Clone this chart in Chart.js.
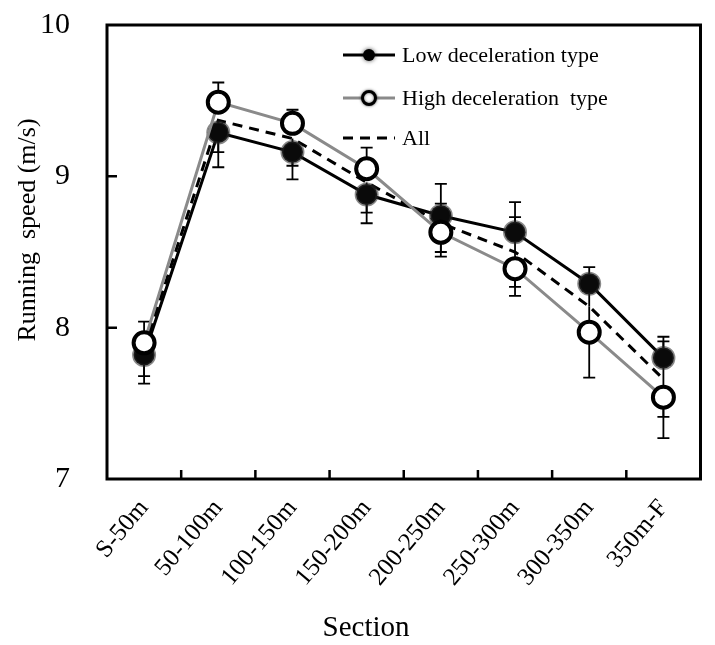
<!DOCTYPE html>
<html>
<head>
<meta charset="utf-8">
<script src="https://cdn.jsdelivr.net/npm/chart.js@4/dist/chart.umd.min.js"></script>
<style>
  html, body { margin: 0; padding: 0; background: #fff; }
  #wrap { width: 715px; height: 645px; }
</style>
</head>
<body>
<div id="wrap"><canvas id="c" width="715" height="645"></canvas></div>
<script>
// ---- Data ----
const categories = ['S-50m', '50-100m', '100-150m', '150-200m', '200-250m', '250-300m', '300-350m', '350m-F'];
const lowValues  = [7.82, 9.29, 9.16, 8.88, 8.74, 8.63, 8.29, 7.80];
const highValues = [7.90, 9.49, 9.35, 9.05, 8.63, 8.39, 7.97, 7.54];
const allValues  = [7.86, 9.37, 9.25, 8.96, 8.69, 8.50, 8.14, 7.66];

// error bars (m/s), upward and downward parts that are visible
const lowErrPlus   = [0, 0, 0, 0, 0.21, 0.20, 0.11, 0.14];
const lowErrMinus  = [0.19, 0.23, 0.18, 0.19, 0, 0, 0, 0];
const highErrPlus  = [0.14, 0.13, 0.09, 0.14, 0, 0, 0, 0];
const highErrMinus = [0, 0, 0, 0, 0.16, 0.18, 0.30, 0.27];
const allErrPlus   = [0, 0, 0, 0, 0.13, 0.23, 0.15, 0.25];
const allErrMinus  = [0.18, 0.21, 0.18, 0.20, 0.19, 0.23, 0.15, 0.25];

const yTicks = [7, 8, 9, 10];
const seriesLabels = ['Low deceleration type', 'High deceleration  type', 'All'];
const xTitle = 'Section';
const yTitle = 'Running  speed (m/s)';

const SERIF = '"Liberation Serif", "Times New Roman", serif';
const GRAY = '#8a8a8a';

const errorBars = {
  id: 'errorBars',
  beforeDatasetsDraw(chart) {
    const ctx = chart.ctx;
    const xs = chart.scales.x, ys = chart.scales.y;
    const sets = [
      [lowValues, lowErrPlus, lowErrMinus],
      [highValues, highErrPlus, highErrMinus],
      [allValues, allErrPlus, allErrMinus]
    ];
    ctx.save();
    ctx.strokeStyle = '#000';
    ctx.lineWidth = 1.8;
    sets.forEach(([vals, plus, minus]) => {
      vals.forEach((v, i) => {
        const x = xs.getPixelForValue(i);
        const y0 = ys.getPixelForValue(v);
        [[plus[i], 1], [minus[i], -1]].forEach(([d, s]) => {
          if (!d) return;
          const y1 = ys.getPixelForValue(v + s * d);
          ctx.beginPath();
          ctx.moveTo(x, y0); ctx.lineTo(x, y1);
          ctx.moveTo(x - 6, y1); ctx.lineTo(x + 6, y1);
          ctx.stroke();
        });
      });
    });
    ctx.restore();
  }
};

const frameAndLegend = {
  id: 'frameAndLegend',
  afterDraw(chart) {
    const ctx = chart.ctx;
    const a = chart.chartArea;
    const xs = chart.scales.x, ys = chart.scales.y;
    ctx.save();
    // frame
    ctx.strokeStyle = '#000';
    ctx.lineWidth = 3;
    ctx.strokeRect(a.left, a.top, a.right - a.left, a.bottom - a.top);
    // inward tick marks
    ctx.lineWidth = 2.5;
    ctx.beginPath();
    for (let i = 1; i < categories.length; i++) {
      const xb = (xs.getPixelForValue(i - 1) + xs.getPixelForValue(i)) / 2;
      ctx.moveTo(xb, a.bottom); ctx.lineTo(xb, a.bottom - 9);
    }
    yTicks.slice(1, -1).forEach(t => {
      const yp = ys.getPixelForValue(t);
      ctx.moveTo(a.left, yp); ctx.lineTo(a.left + 10, yp);
    });
    ctx.stroke();

    // axis titles
    ctx.fillStyle = '#000';
    ctx.font = '29px ' + SERIF;
    ctx.textAlign = 'center';
    ctx.textBaseline = 'alphabetic';
    ctx.fillText(xTitle, a.left + 259, 636);
    ctx.save();
    ctx.translate(35, a.top + 205);
    ctx.rotate(-Math.PI / 2);
    ctx.font = '26px ' + SERIF;
    ctx.fillText(yTitle, 0, 0);
    ctx.restore();

    // legend
    const lx0 = a.left + 236, lx1 = a.left + 288, tx = a.left + 295;
    const rows = [a.top + 30, a.top + 73, a.top + 113];
    [0, 1, 2].forEach((di, r) => {
      const ds = chart.data.datasets[di];
      const y = rows[r];
      ctx.save();
      ctx.strokeStyle = ds.borderColor;
      ctx.lineWidth = 3;
      ctx.setLineDash(ds.borderDash || []);
      ctx.beginPath(); ctx.moveTo(lx0, y); ctx.lineTo(lx1, y); ctx.stroke();
      ctx.setLineDash([]);
      const cx = (lx0 + lx1) / 2;
      if (di === 0) {
        ctx.fillStyle = '#000';
        ctx.shadowColor = 'rgba(0,0,0,0.7)'; ctx.shadowBlur = 4;
        ctx.beginPath(); ctx.arc(cx, y, 6, 0, Math.PI * 2); ctx.fill();
      } else if (di === 1) {
        ctx.fillStyle = '#fff';
        ctx.strokeStyle = '#000';
        ctx.lineWidth = 3;
        ctx.shadowColor = 'rgba(0,0,0,0.6)'; ctx.shadowBlur = 3;
        ctx.beginPath(); ctx.arc(cx, y, 6.5, 0, Math.PI * 2); ctx.fill(); ctx.stroke();
      }
      ctx.restore();
      ctx.fillStyle = '#000';
      ctx.font = '22px ' + SERIF;
      ctx.textAlign = 'left';
      ctx.textBaseline = 'middle';
      ctx.fillText(ds.label, tx, y + 1);
    });
    ctx.restore();
  }
};

new Chart(document.getElementById('c'), {
  type: 'line',
  data: {
    labels: categories,
    datasets: [
      {
        label: seriesLabels[0],
        data: lowValues,
        borderColor: '#000',
        borderWidth: 3,
        backgroundColor: '#000',
        pointBackgroundColor: '#0a0a0a',
        pointBorderColor: 'rgba(40,40,40,0.55)',
        pointBorderWidth: 3,
        pointRadius: 10.5,
        pointHoverRadius: 10.5,
        tension: 0,
        order: 2
      },
      {
        label: seriesLabels[1],
        data: highValues,
        borderColor: GRAY,
        borderWidth: 3,
        backgroundColor: '#fff',
        pointBackgroundColor: '#fff',
        pointBorderColor: '#000',
        pointBorderWidth: 4,
        pointRadius: 10.5,
        pointHoverRadius: 10.5,
        tension: 0,
        order: 1
      },
      {
        label: seriesLabels[2],
        data: allValues,
        borderColor: '#000',
        borderWidth: 3,
        borderDash: [10, 7],
        pointRadius: 0,
        pointHoverRadius: 0,
        tension: 0,
        order: 3
      }
    ]
  },
  options: {
    responsive: false,
    animation: false,
    events: [],
    layout: { padding: { top: 25, right: 3, left: 0, bottom: 0 } },
    plugins: {
      legend: { display: false },
      tooltip: { enabled: false },
      title: { display: false }
    },
    scales: {
      x: {
        type: 'category',
        offset: true,
        grid: { display: false, drawTicks: false },
        border: { display: false },
        ticks: {
          color: '#000',
          font: { family: SERIF, size: 25 },
          minRotation: 50,
          maxRotation: 50,
          padding: 15,
          autoSkip: false
        },
        afterFit(scale) {
          scale.height = 166;
          scale.paddingLeft = 0; scale.paddingRight = 0;
          scale.paddingTop = 0; scale.paddingBottom = 0;
        }
      },
      y: {
        min: 7,
        max: 10,
        afterBuildTicks(scale) { scale.ticks = yTicks.map(v => ({ value: v })); },
        grid: { display: false, drawTicks: false },
        border: { display: false },
        ticks: {
          color: '#000',
          font: { family: SERIF, size: 30 },
          padding: 37,
          callback: v => String(v)
        },
        afterFit(scale) {
          scale.width = 107;
          scale.paddingTop = 0; scale.paddingBottom = 0;
          scale.paddingLeft = 0; scale.paddingRight = 0;
        }
      }
    }
  },
  plugins: [errorBars, frameAndLegend]
});
</script>
</body>
</html>
